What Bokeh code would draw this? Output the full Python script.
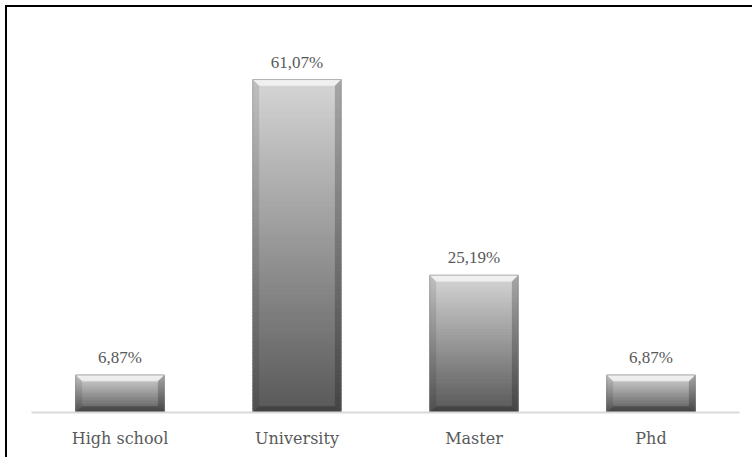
from bokeh.plotting import figure
from bokeh.models import Range1d, FixedTicker, LabelSet, ColumnDataSource
from bokeh.embed import file_html
from bokeh.resources import INLINE

# Education level shares (%)
categories = ["High school", "University", "Master", "Phd"]
shares = [6.87, 61.07, 25.19, 6.87]
share_labels = ["6,87%", "61,07%", "25,19%", "6,87%"]

FONT = "DejaVu Serif"
TEXT_COLOR = "#595959"
BAR_WIDTH = 0.5
N_STEPS = 90
TOP_RGB = (214, 214, 214)
BOTTOM_RGB = (88, 88, 88)

p = figure(width=752, height=457, output_backend="svg", toolbar_location=None,
           x_range=Range1d(0, len(categories)), y_range=Range1d(0, 71.9),
           min_border_left=31, min_border_right=13, min_border_top=20, min_border_bottom=45)
# chart frame: dark rule along the top and left edges, painted behind a transparent canvas
p.styles = {"background-color": "#ffffff",
            "box-shadow": "inset 5px 5px 0px 0px #ffffff, inset 7px 7px 0px 0px #000000"}
p.outline_line_color = None
p.grid.grid_line_color = None
p.yaxis.visible = False
p.background_fill_color = None
p.border_fill_color = None

centers = [i + 0.5 for i in range(len(categories))]

# vertical gradient for each bar, light at the top, dark at the base
g_left, g_right, g_bottom, g_top, g_color = [], [], [], [], []
for c, v in zip(centers, shares):
    for k in range(N_STEPS):
        f0 = k / N_STEPS
        f1 = (k + 1) / N_STEPS
        t = 1 - (f0 + f1) / 2  # 0 at top, 1 at bottom
        rgb = tuple(int(round(TOP_RGB[j] + (BOTTOM_RGB[j] - TOP_RGB[j]) * t)) for j in range(3))
        g_left.append(c - BAR_WIDTH / 2)
        g_right.append(c + BAR_WIDTH / 2)
        g_bottom.append(v * f0)
        g_top.append(min(v, v * f1 + 0.15))
        g_color.append("#%02x%02x%02x" % rgb)
p.quad(left=g_left, right=g_right, bottom=g_bottom, top=g_top,
       fill_color=g_color, line_color=g_color, line_width=0.6)

# bevelled edges
bx = 0.036
by = 1.15
top_x, top_y, left_x, left_y, right_x, right_y, bot_x, bot_y = [], [], [], [], [], [], [], []
for c, v in zip(centers, shares):
    x0, x1 = c - BAR_WIDTH / 2, c + BAR_WIDTH / 2
    top_x.append([x0, x1, x1 - bx, x0 + bx]); top_y.append([v, v, v - by, v - by])
    left_x.append([x0, x0 + bx, x0 + bx, x0]); left_y.append([0, by, v - by, v])
    right_x.append([x1, x1 - bx, x1 - bx, x1]); right_y.append([0, by, v - by, v])
    bot_x.append([x0, x1, x1 - bx, x0 + bx]); bot_y.append([0, 0, by, by])
p.patches(top_x, top_y, fill_color="white", fill_alpha=0.65, line_color=None)
p.patches(left_x, left_y, fill_color="black", fill_alpha=0.10, line_color=None)
p.patches(right_x, right_y, fill_color="black", fill_alpha=0.22, line_color=None)
p.patches(bot_x, bot_y, fill_color="black", fill_alpha=0.25, line_color=None)
p.quad(left=[c - BAR_WIDTH / 2 for c in centers], right=[c + BAR_WIDTH / 2 for c in centers],
       bottom=[0] * len(shares), top=shares, fill_color=None,
       line_color="#7a7a7a", line_alpha=0.5, line_width=1)

# value labels above bars
src = ColumnDataSource(dict(x=centers, y=shares, text=share_labels))
p.add_layout(LabelSet(x="x", y="y", text="text", source=src, y_offset=8,
                      text_align="center", text_baseline="bottom",
                      text_font=FONT, text_font_size="17px", text_color=TEXT_COLOR))

# category axis
p.xaxis.ticker = FixedTicker(ticks=centers)
p.xaxis.major_label_overrides = {c: name for c, name in zip(centers, categories)}
p.xaxis.major_tick_line_color = None
p.xaxis.minor_tick_line_color = None
p.xaxis.axis_line_color = "#d9d9d9"
p.xaxis.axis_line_width = 2
p.xaxis.major_label_standoff = 10
p.xaxis.major_label_text_font = FONT
p.xaxis.major_label_text_font_size = "16px"
p.xaxis.major_label_text_color = TEXT_COLOR

open("out.html", "w").write(file_html(p, INLINE))
